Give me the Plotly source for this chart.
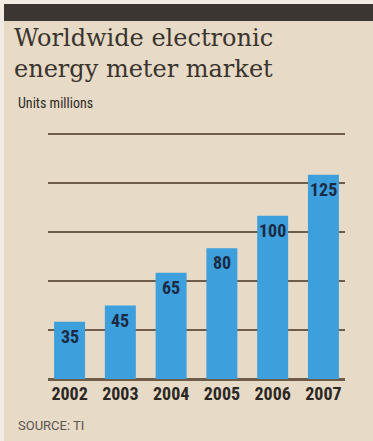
import plotly.graph_objects as go

years = ["2002", "2003", "2004", "2005", "2006", "2007"]
units = [35, 45, 65, 80, 100, 125]
grid_ticks = [0, 30, 60, 90, 120, 150]

W, H = 373, 441
L, R, T, B = 48, 28, 132, 62
Y_TOP = 151.22
pw = W - L - R
ph = H - T - B

def px_x(px):
    return (px - L) / pw

def px_y(py):
    return (H - B - py) / ph

BG = "#e7dac6"
BAR = "#3d9fdc"
GRID = "#6e5b48"
DARK = "#3b3631"
NARROW = "Roboto Condensed, Open Sans Condensed, DejaVu Sans Condensed, sans-serif"

fig = go.Figure()
fig.add_trace(go.Bar(
    x=years, y=units, marker=dict(color=BAR, line=dict(width=0)),
    width=0.61, hoverinfo="skip",
))

for i, v in enumerate(units):
    fig.add_annotation(
        x=i, y=v, xref="x", yref="y", text="<b>%d</b>" % v, showarrow=False,
        yanchor="top", yshift=-2,
        font=dict(family=NARROW, size=18, color="#1b2a45"),
    )

shapes = [
    dict(type="rect", xref="paper", yref="paper", x0=px_x(4), x1=px_x(W + 2),
         y0=px_y(H + 2), y1=px_y(4), fillcolor=BG, line=dict(width=0), layer="below"),
    dict(type="rect", xref="paper", yref="paper", x0=px_x(4), x1=px_x(W + 2),
         y0=px_y(21), y1=px_y(4), fillcolor=DARK, line=dict(width=0), layer="below"),
]

fig.add_annotation(
    xref="paper", yref="paper", x=px_x(12), y=px_y(22), xanchor="left", yanchor="top",
    text="Worldwide electronic<br>energy meter market", showarrow=False, align="left",
    font=dict(family="DejaVu Serif, Liberation Serif, serif", size=24, color="#3a342e"),
)
fig.add_annotation(
    xref="paper", yref="paper", x=px_x(16), y=px_y(103), xanchor="left", yanchor="middle",
    text="Units millions", showarrow=False,
    font=dict(family=NARROW, size=14, color="#2e2a26"),
)
fig.add_annotation(
    xref="paper", yref="paper", x=px_x(16), y=px_y(425), xanchor="left", yanchor="middle",
    text="SOURCE: TI", showarrow=False,
    font=dict(family="Roboto, Liberation Sans, sans-serif", size=13, color="#5a5550"),
)

fig.update_layout(
    width=W, height=H, margin=dict(l=L, r=R, t=T, b=B, pad=0),
    paper_bgcolor="#f1ebe4", plot_bgcolor="rgba(0,0,0,0)",
    shapes=shapes, showlegend=False,
    xaxis=dict(type="category", range=[-0.425, 5.425], showgrid=False, zeroline=False,
               showline=False, ticks="", tickfont=dict(family=NARROW, size=18, color="#2b2824"),
               ticklabelstandoff=2, tickprefix="<b>", ticksuffix="</b>", fixedrange=True),
    yaxis=dict(range=[0, Y_TOP], tickvals=grid_ticks, showticklabels=False,
               showgrid=True, gridcolor=GRID, gridwidth=1.5,
               zeroline=True, zerolinecolor=GRID, zerolinewidth=2.5,
               showline=False, ticks="", fixedrange=True),
)

fig.write_html("out.html")
